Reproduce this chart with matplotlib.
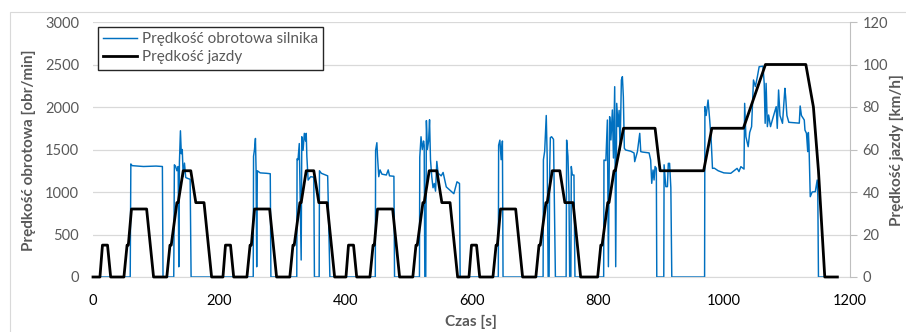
import matplotlib.pyplot as plt
from matplotlib.patches import Rectangle

plt.rcParams['font.family'] = ['Lato', 'DejaVu Sans']

# Prędkość jazdy (NEDC) - punkty załamania [s], [km/h]
czas_jazdy = [0, 11, 15, 23, 28, 49, 54, 56, 61, 85, 96, 117, 122, 124, 133, 135, 143, 155, 163, 176, 188,
              195, 206, 210, 218, 223, 244, 249, 251, 256, 280, 291, 312, 317, 319, 328, 330, 338, 350, 358, 371, 383,
              390, 401, 405, 413, 418, 439, 444, 446, 451, 475, 486, 507, 512, 514, 523, 525, 533, 545, 553, 566, 578,
              585, 596, 600, 608, 613, 634, 639, 641, 646, 670, 681, 702, 707, 709, 718, 720, 728, 740, 748, 761, 773,
              780, 800, 805, 807, 816, 818, 826, 828, 841, 891, 899, 968, 981, 1031, 1066, 1130, 1142, 1150, 1160, 1180]
predkosc = [0, 0, 15, 15, 0, 0, 15, 15, 32, 32, 0, 0, 15, 15, 35, 35, 50, 50, 35, 35, 0,
            0, 0, 15, 15, 0, 0, 15, 15, 32, 32, 0, 0, 15, 15, 35, 35, 50, 50, 35, 35, 0,
            0, 0, 15, 15, 0, 0, 15, 15, 32, 32, 0, 0, 15, 15, 35, 35, 50, 50, 35, 35, 0,
            0, 0, 15, 15, 0, 0, 15, 15, 32, 32, 0, 0, 15, 15, 35, 35, 50, 50, 35, 35, 0,
            0, 0, 15, 15, 35, 35, 50, 50, 70, 70, 50, 50, 70, 70, 100, 100, 80, 50, 0, 0]

# Prędkość obrotowa silnika (odczyt z wykresu) [s], [obr/min]
czas_silnik = [0, 59, 60, 62, 80, 100, 110, 111,
               128, 129, 131, 133, 135, 136, 137, 138.6, 140, 141.5, 143, 145, 147, 150, 154, 155.5,
               254, 254.5, 256, 257.5, 258.5, 259.5, 260.5, 265, 275, 281, 282,
               323, 323.5, 325, 327, 330, 331, 333, 335, 337, 338, 339, 341, 345, 350, 351,
               358.5, 359, 362, 367, 372, 375.5,
               447.5, 448, 450, 451, 453, 455, 458, 465, 468, 470, 477, 478,
               517.5, 518, 520, 522, 524, 525, 526, 527.5, 528.5, 530, 532, 533.5, 535, 537, 539, 541, 543,
               545, 547, 552, 555, 560, 566, 572, 577, 581, 582,
               642.5, 643, 645, 647, 649, 650,
               713.5, 714, 716, 718.5, 720, 721.5, 723, 724, 725, 727, 730, 733,
               750, 750.8, 752.9, 754.5, 755.6, 757.5, 758.2, 759.8, 762.4, 764,
               809.5, 810, 813, 815.4, 817, 819, 821, 823.3, 825, 827, 828.6, 830.2, 832.3, 834, 835.5,
               837.6, 839.2, 840.7, 842.3, 844.4, 852.4, 857.7, 858.7, 863, 866.7, 868.3, 871, 881.5,
               884, 885.7, 887.8, 889.4, 891, 893, 893.7,
               904.8, 905.3, 908, 910.6, 912, 914, 916, 917.5,
               969.5, 970, 972, 975, 977.6, 980, 982, 985, 991, 1000, 1011, 1021, 1024, 1027, 1032,
               1033, 1035, 1038.6, 1041, 1044, 1047, 1050, 1053, 1056, 1062, 1064, 1065.5, 1067, 1069,
               1071, 1074, 1077, 1080, 1083, 1084.7, 1086.8, 1089, 1093, 1096.8, 1098, 1100, 1103,
               1112, 1119.6, 1121, 1123, 1127.5, 1128.6, 1131, 1133, 1134, 1135, 1137, 1140, 1145,
               1148, 1149, 1150, 1180]
obroty = [0, 0, 1330, 1310, 1300, 1305, 1300, 0,
          0, 1320, 1300, 1250, 1300, 120, 1350, 1720, 1450, 1500, 1180, 1340, 1170, 1160, 1150, 0,
          0, 1420, 1500, 1630, 1260, 120, 1250, 1225, 1220, 1215, 0,
          0, 1390, 1380, 1570, 200, 1650, 1490, 1690, 1600, 1690, 1420, 1140, 1180, 1175, 0,
          0, 1250, 1220, 1205, 1190, 0,
          0, 1490, 1580, 1420, 1180, 1260, 1210, 1200, 1260, 1190, 1185, 0,
          0, 1410, 1650, 1500, 1600, 1550, 0, 0, 1840, 1500, 1600, 1850, 1380, 1180, 1050, 1100, 1010,
          1360, 1220, 1190, 1230, 1060, 1020, 980, 1120, 1100, 0,
          0, 1550, 1610, 1380, 1600, 0,
          0, 1380, 1480, 1900, 1400, 0, 0, 1300, 1640, 1650, 1620, 0,
          0, 1610, 1420, 980, 0, 0, 1300, 1200, 1200, 0,
          0, 1376, 1370, 1847, 121, 1886, 1612, 1965, 1400, 2239, 121, 2043, 1769, 1960, 1494,
          2318, 2357, 2121, 1514, 1494, 1480, 1459, 1357, 1475, 1690, 1475, 1470, 1460,
          1376, 1102, 1259, 1141, 1300, 1280, 0,
          0, 1320, 1063, 1063, 1337, 1337, 1050, 0,
          0, 2004, 1900, 2082, 1847, 1600, 1278, 1280, 1250, 1225, 1220, 1278, 1240, 1298, 1270,
          2043, 1650, 1533, 1700, 1769, 2318, 2240, 2350, 2474, 2480, 2278, 1808, 2278, 1769,
          1906, 1769, 1850, 1925, 2004, 1749, 2200, 1900, 1808, 2220, 2121, 1900, 1820,
          1815, 1810, 2012, 1900, 1847, 1729, 1690, 1475, 1700, 1550, 945, 1000, 1004,
          1141, 945, 0, 0]

W, H = 906, 332
fig = plt.figure(figsize=(W / 100, H / 100), dpi=100)
fig.patch.set_facecolor('white')

# ramka obszaru wykresu (Excel)
fig.patches.append(Rectangle((10 / W, -0.1), 1.0, (H - 12) / H + 0.1, transform=fig.transFigure,
                             fill=False, edgecolor='#d9d9d9', linewidth=0.8))

ax = fig.add_axes([93 / W, 1 - 277 / H, 757 / W, 255 / H])
ax2 = ax.twinx()

grey = '#595959'
ax.plot(czas_silnik, obroty, color='#0070C0', linewidth=1.05, label='Prędkość obrotowa silnika', clip_on=False)
ax2.plot(czas_jazdy, predkosc, color='black', linewidth=2.0, label='Prędkość jazdy', clip_on=False)

ax.set_xlim(0, 1200)
ax.set_ylim(0, 3000)
ax2.set_ylim(0, 120)
ax.set_xticks(range(0, 1201, 200))
ax.set_yticks(range(0, 3001, 500))
ax2.set_yticks(range(0, 121, 20))

ax.grid(axis='y', color='#d9d9d9', linewidth=0.9)
ax.set_axisbelow(True)

for s in ['top', 'left', 'right']:
    ax.spines[s].set_visible(False)
ax.spines['bottom'].set_color('#d9d9d9')
for s in ['top', 'left', 'bottom']:
    ax2.spines[s].set_visible(False)
ax2.spines['right'].set_color('#bfbfbf')

ax.tick_params(axis='both', length=0, labelsize=10.5, labelcolor=grey, pad=10)
ax.tick_params(axis='x', labelcolor='black', pad=12)
ax2.tick_params(axis='y', length=5, color='#bfbfbf', labelsize=10.5, labelcolor=grey, pad=4)

fig.text(29 / W, 1 - 150 / H, 'Prędkość obrotowa [obr/min]', rotation=90, ha='center', va='center',
         fontsize=11, fontweight='bold', color=grey)
fig.text(471 / W, 1 - 322 / H, 'Czas [s]', ha='center', va='center',
         fontsize=11, fontweight='bold', color=grey)
fig.text(904 / W, 1 - 150 / H, 'Prędkość jazdy [km/h]', rotation=90, ha='right', va='center',
         fontsize=11, fontweight='bold', color=grey)

h1, l1 = ax.get_legend_handles_labels()
h2, l2 = ax2.get_legend_handles_labels()
leg = fig.legend(h1 + h2, l1 + l2, loc='upper left', bbox_to_anchor=(98 / W, 1 - 27 / H),
                 fontsize=11, frameon=True, fancybox=False, edgecolor='#262626', framealpha=1,
                 borderpad=0.35, handlelength=2.2, handletextpad=0.3, labelspacing=0.25,
                 borderaxespad=0)
leg.get_frame().set_linewidth(1.0)
for t in leg.get_texts():
    t.set_color(grey)

fig.savefig('out.png', dpi=100)
